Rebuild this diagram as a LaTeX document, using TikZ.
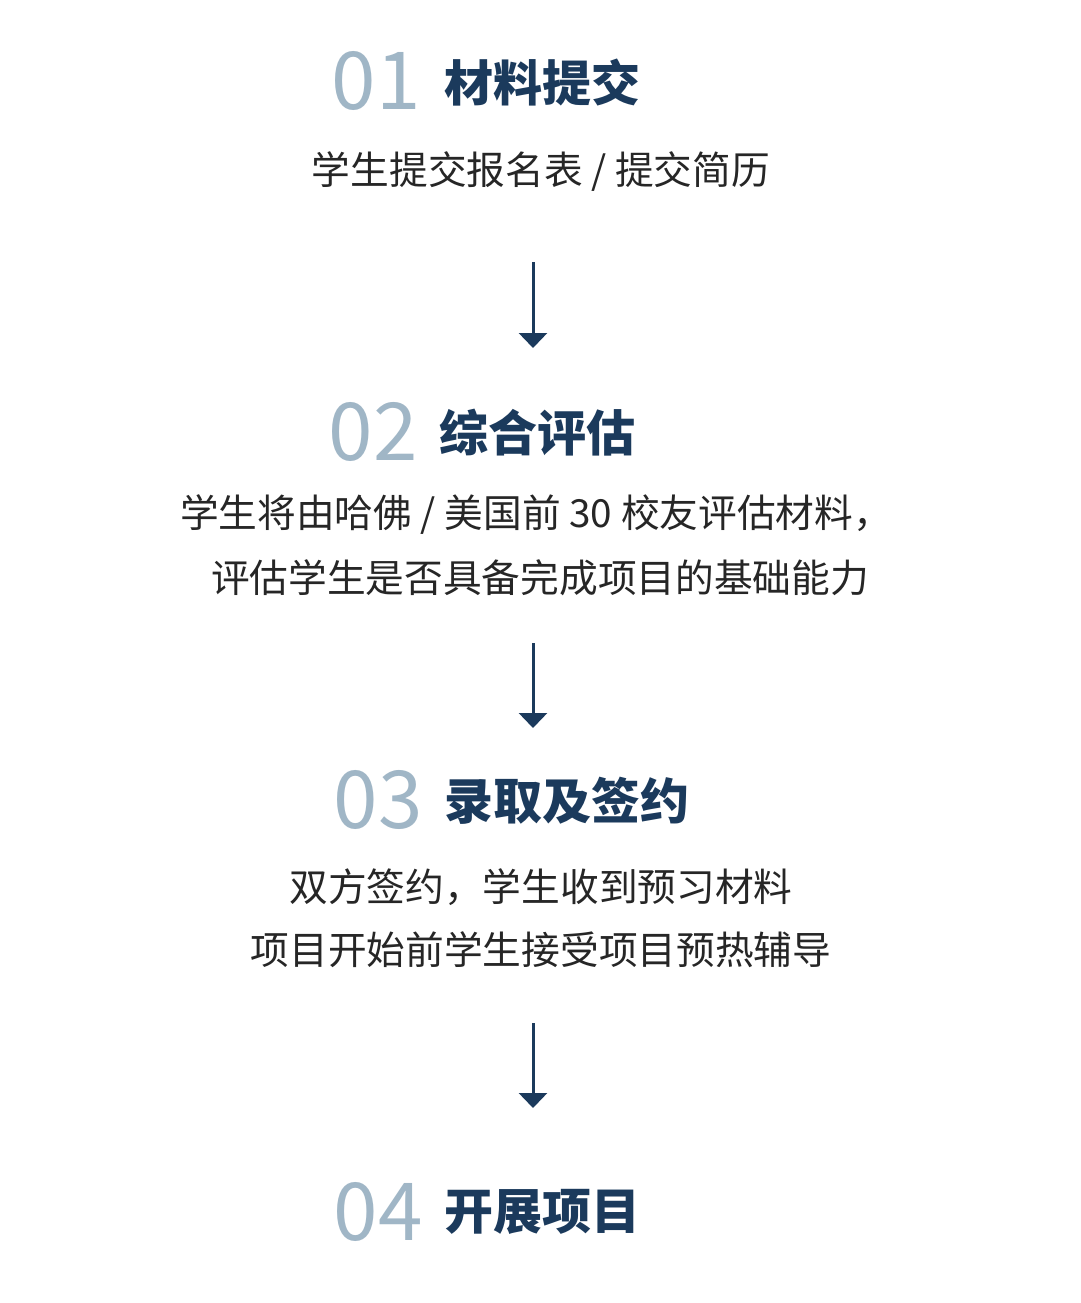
\documentclass[tikz,border=0pt]{standalone}
\usepackage{fontspec}
\usetikzlibrary{arrows.meta}
\newfontfamily\cjk{Noto Sans CJK SC}
\definecolor{navy}{HTML}{1B3A5C}
\definecolor{numblue}{HTML}{A0B6C6}
\definecolor{bodytxt}{HTML}{262626}
\begin{document}
\begin{tikzpicture}[x=1pt,y=-1pt,
  num/.style={inner sep=0pt,text=numblue,font=\cjk\fontsize{80}{80}\selectfont},
  ttl/.style={inner sep=0pt,anchor=west,text=navy,font=\cjk\bfseries\fontsize{49}{49}\selectfont},
  body/.style={inner sep=0pt,text=bodytxt,font=\cjk\fontsize{38.7}{38.7}\selectfont},
  flow/.style={draw=navy,line width=3pt,-{Triangle[width=28pt,length=15pt]}}]
\useasboundingbox[fill=white] (0,0) rectangle (1080,1303);
% step 1
\node[num] (n1) at (376,81) {01};
\node[ttl] (t1) at (444,83) {材料提交};
\node[body] (s1) at (541,172) {学生提交报名表 / 提交简历};
\coordinate (a1s) at (533,262);
\coordinate (a1e) at (533,348);
\draw[flow] (a1s) -- (a1e);
% step 2
\node[num] (n2) at (373,432) {02};
\node[ttl] (t2) at (439,433) {综合评估};
\node[body] (s2a) at (536,515) {学生将由哈佛 / 美国前 30 校友评估材料，};
\node[body] (s2b) at (540,578) {评估学生是否具备完成项目的基础能力};
\coordinate (a2s) at (533,643);
\coordinate (a2e) at (533,728);
\draw[flow] (a2s) -- (a2e);
% step 3
\node[num] (n3) at (378,800) {03};
\node[ttl] (t3) at (444,801) {录取及签约};
\node[body] (s3a) at (541,887) {双方签约，学生收到预习材料};
\node[body] (s3b) at (541,950) {项目开始前学生接受项目预热辅导};
\coordinate (a3s) at (533,1023);
\coordinate (a3e) at (533,1108);
\draw[flow] (a3s) -- (a3e);
% step 4
\node[num] (n4) at (378,1212) {04};
\node[ttl] (t4) at (444,1212) {开展项目};
\end{tikzpicture}
\end{document}
